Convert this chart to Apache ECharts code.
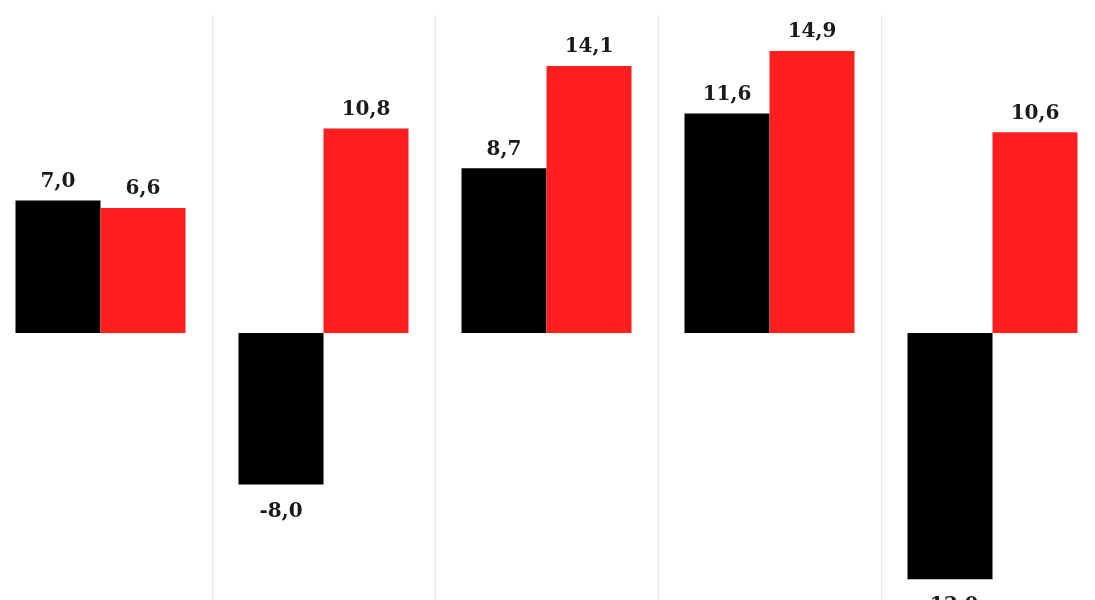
<!DOCTYPE html>
<html>
<head>
<meta charset="utf-8">
<script src="https://cdn.jsdelivr.net/npm/echarts@6/dist/echarts.min.js"></script>
<style>html,body{margin:0;padding:0;background:#fff;overflow:hidden;width:1095px;height:600px;position:relative;}#c{position:absolute;left:-11px;top:0;width:1115px;height:620px;}</style>
</head>
<body>
<div id="c"></div>
<script>
const categories = ['G1', 'G2', 'G3', 'G4', 'G5'];
const seriesBlack = [7.0, -8.0, 8.7, 11.6, -13.0];
const seriesRed = [6.6, 10.8, 14.1, 14.9, 10.6];

function fmt(v) { return v.toFixed(1).replace('.', ','); }
function build(arr) {
  return arr.map(v => ({ value: v, label: v < 0 ? { position: 'bottom', distance: 17 } : { position: 'top', distance: 9 } }));
}
const labelStyle = {
  show: true,
  fontFamily: 'DejaVu Serif',
  fontWeight: 'bold',
  fontSize: 20,
  color: '#1a1a1a',
  formatter: p => fmt(p.value)
};
const chart = echarts.init(document.getElementById('c'));
chart.setOption({
  animation: false,
  backgroundColor: '#ffffff',
  grid: { left: 0, right: 0, top: 15, bottom: 3, containLabel: false },
  xAxis: {
    type: 'category',
    data: categories,
    boundaryGap: true,
    axisLine: { show: false },
    axisTick: { show: false },
    axisLabel: { show: false },
    splitLine: { show: true, interval: 0, lineStyle: { color: '#e8e8e8', width: 1 } }
  },
  yAxis: {
    type: 'value',
    min: -15, max: 16.8,
    axisLine: { show: false }, axisTick: { show: false }, axisLabel: { show: false },
    splitLine: { show: false }
  },
  series: [
    { type: 'bar', data: build(seriesBlack), barWidth: 85, barGap: '0%', itemStyle: { color: '#000000' }, label: labelStyle },
    { type: 'bar', data: build(seriesRed), barWidth: 85, barGap: '0%', itemStyle: { color: '#ff1f1f' }, label: labelStyle }
  ]
});
</script>
</body>
</html>
